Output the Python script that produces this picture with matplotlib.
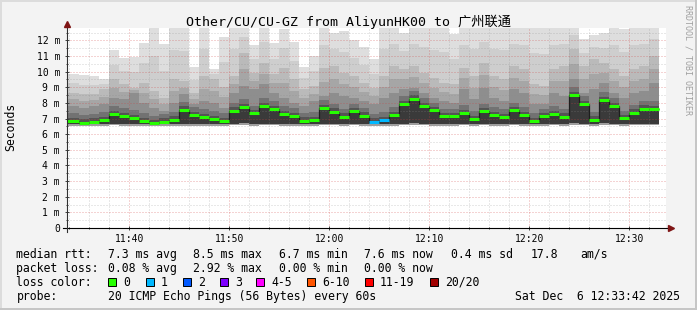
import matplotlib
matplotlib.use("Agg")
import matplotlib.pyplot as plt
import numpy as np
from matplotlib.patches import Rectangle
from matplotlib.ticker import MultipleLocator, FuncFormatter

# ---- data (ms), one bar per minute, bar i ends at sample_minute[i] (minutes after 11:00)
sample_minute = list(range(35, 94))

median_rtt = [6.84, 6.74, 6.80, 6.90, 7.29, 7.16, 7.03, 6.84, 6.69, 6.80,
              6.93, 7.55, 7.23, 7.08, 6.97, 6.84, 7.50, 7.72, 7.33, 7.80,
              7.61, 7.27, 7.16, 6.86, 6.90, 7.67, 7.44, 7.12, 7.46, 7.18,
              6.80, 6.91, 7.23, 7.91, 8.27, 7.80, 7.52, 7.14, 7.14, 7.35,
              6.97, 7.46, 7.23, 7.08, 7.52, 7.23, 6.84, 7.14, 7.29, 7.12,
              8.50, 7.91, 6.93, 8.18, 7.80, 7.01, 7.37, 7.63, 7.59]

rtt_max = [9.87, 9.80, 9.75, 9.50, 11.38, 10.88, 10.95, 11.85, 13.2, 11.77,
           13.2, 13.2, 10.30, 13.2, 10.20, 12.20, 13.2, 13.2, 11.70, 13.2,
           11.80, 12.70, 11.90, 10.30, 11.00, 13.2, 12.50, 12.60, 12.00, 11.60,
           10.78, 13.2, 13.2, 12.50, 13.2, 13.2, 13.2, 13.2, 12.39, 13.2,
           13.2, 13.2, 13.2, 13.2, 13.2, 13.2, 13.2, 13.2, 13.2, 13.2,
           13.2, 12.07, 12.32, 12.45, 13.2, 12.75, 13.2, 13.2, 13.2]

rtt_hi = [8.66, 8.55, 8.55, 8.87, 9.51, 9.19, 8.98, 9.30, 8.76, 8.34,
          9.51, 9.40, 8.66, 9.72, 9.50, 9.00, 9.70, 11.20, 9.93, 10.57,
          9.83, 10.26, 9.51, 8.87, 9.08, 10.26, 10.36, 9.93, 9.72, 9.30,
          8.98, 9.72, 10.36, 10.15, 10.36, 9.93, 9.62, 9.30, 9.19, 10.26,
          9.72, 10.57, 9.72, 9.51, 10.36, 10.15, 9.19, 9.08, 10.15, 10.36,
          11.43, 10.36, 10.79, 10.57, 10.15, 9.72, 10.15, 10.36, 11.00]

rtt_mid = [7.80, 7.70, 7.80, 7.90, 8.34, 8.23, 8.66, 8.00, 7.70, 7.50,
           8.00, 8.55, 7.90, 8.12, 8.00, 7.70, 8.66, 9.08, 8.87, 9.19,
           8.66, 8.34, 8.00, 7.80, 8.12, 8.44, 8.66, 8.44, 8.34, 8.12,
           7.90, 8.34, 8.66, 8.87, 8.98, 8.66, 8.34, 8.12, 8.00, 8.87,
           8.23, 8.98, 8.34, 8.12, 8.87, 8.66, 7.90, 7.90, 8.66, 8.44,
           9.51, 8.66, 8.87, 9.30, 8.66, 8.34, 8.66, 8.76, 9.30]

rtt_min = [6.55, 6.52, 6.55, 6.55, 6.58, 6.55, 6.55, 6.52, 6.52, 6.55,
           6.55, 6.55, 6.55, 6.55, 6.55, 6.52, 6.58, 6.60, 6.55, 6.58,
           6.58, 6.55, 6.55, 6.55, 6.55, 6.58, 6.58, 6.55, 6.58, 6.55,
           6.52, 6.55, 6.55, 6.58, 6.60, 6.58, 6.55, 6.55, 6.55, 6.58,
           6.55, 6.58, 6.55, 6.55, 6.58, 6.55, 6.52, 6.55, 6.58, 6.55,
           6.60, 6.58, 6.55, 6.60, 6.58, 6.55, 6.58, 6.58, 6.58]

lost_pings = [0] * 30 + [1, 1] + [0] * 27

loss_labels = ["0", "1", "2", "3", "4-5", "6-10", "11-19", "20/20"]
loss_colors = ["#26ff00", "#00b8ff", "#0059ff", "#7e00ff",
               "#ff00ff", "#ff5500", "#ff0000", "#a10000"]

stats_rtt = ["7.3 ms avg", "8.5 ms max", "6.7 ms min", "7.6 ms now", "0.4 ms sd", "17.8", "am/s"]
stats_loss = ["0.08 % avg", "2.92 % max", "0.00 % min", "0.00 % now"]

title = "Other/CU/CU-GZ from AliyunHK00 to 广州联通"
probe = "20 ICMP Echo Pings (56 Bytes) every 60s"
stamp = "Sat Dec  6 12:33:42 2025"

# ---- figure
W, H = 697, 310
plt.rcParams['font.family'] = ['DejaVu Sans Mono', 'Noto Sans CJK SC']
fig = plt.figure(figsize=(W / 100, H / 100), dpi=100, facecolor='#f3f3f3')


def px(x, y):
    return x / W, 1 - y / H


ax = fig.add_axes([66.7 / W, 82 / H, 599.6 / W, 200 / H])
ax.set_facecolor('white')
x_left, x_right = 33.73, 93.70
ax.set_xlim(x_left, x_right)
ax.set_ylim(0, 12.79)

edges = np.array([x_left] + sample_minute)
med = np.array(median_rtt)
lo = np.array(rtt_min)
hi = np.array(rtt_hi)
mid = np.array(rtt_mid)
mx = np.array(rtt_max)

# smoke: nested bands, darker towards the median
bands = [
    (mx, '#dedede'),
    ((mx + hi) / 2, '#cecece'),
    (hi, '#bababa'),
    ((hi + mid) / 2, '#a6a6a6'),
    (mid, '#8e8e8e'),
    (np.minimum(mid, med + 0.5), '#727272'),
    (med + 0.22, '#545454'),
    (med, '#3a3a3a'),
    (lo + 0.1, '#9e9e9e'),
]
for top, c in bands:
    ax.stairs(top, edges, baseline=lo, fill=True, color=c, lw=0, zorder=1)

ax.stairs(med, edges, baseline=None, color='#1e1e1e', lw=0.9, zorder=3)
ax.hlines(med, edges[:-1], edges[1:], colors=[loss_colors[l] for l in lost_pings],
          lw=2.2, zorder=4, capstyle='butt')

# grid / ticks
ax.xaxis.set_major_locator(MultipleLocator(10))
ax.xaxis.set_minor_locator(MultipleLocator(2))
ax.yaxis.set_major_locator(MultipleLocator(1))
ax.yaxis.set_minor_locator(MultipleLocator(0.5))
ax.xaxis.set_major_formatter(FuncFormatter(lambda v, _: f"{11 + int(round(v)) // 60}:{int(round(v)) % 60:02d}"))
ax.yaxis.set_major_formatter(FuncFormatter(lambda v, _: "0" if abs(v) < 1e-6 else f"{int(round(v))} m"))
ax.set_axisbelow(False)
ax.grid(which='major', color='#d04040', alpha=0.45, linestyle=(0, (1, 2)), lw=0.72)
ax.grid(which='minor', color='#8c8c8c', alpha=0.4, linestyle=(0, (1, 2)), lw=0.72)
ax.tick_params(which='both', direction='inout', length=3, width=0.7, color='#404040',
               labelsize=7, pad=2.5)
ax.tick_params(which='minor', length=2)
ax.tick_params(axis='y', pad=3.3)
for s in ax.spines.values():
    s.set_visible(False)

# axis lines with arrows
ax.plot([-0.0067, 1.0045], [0, 0], transform=ax.transAxes, color='black', lw=0.8, clip_on=False, zorder=5)
ax.plot([0, 0], [-0.0185, 1.015], transform=ax.transAxes, color='#303030', lw=0.8, clip_on=False, zorder=5)
ax.plot([1.0078], [0], marker='>', ms=4.5, color='#7f1515', transform=ax.transAxes, clip_on=False, zorder=6)
ax.plot([0], [1.0225], marker='^', ms=4.5, color='#7f1515', transform=ax.transAxes, clip_on=False, zorder=6)

# texts
fig.text(*px(348.5, 22), title, ha='center', va='center', fontsize=9.5)
fig.text(*px(11, 127), "Seconds", rotation=90, ha='center', va='center', fontsize=8.3)
fig.text(*px(688, 60), "RRDTOOL / TOBI OETIKER", rotation=-90, ha='center', va='center',
         fontsize=6, color='#a0a0a0')

fs = 8.3
row_y = [254.3, 268.3, 282.3, 296.3]
col_x = [107.6, 193.3, 279.1, 364.4, 451.1, 531.1, 580.0]
fig.text(*px(16.4, row_y[0]), "median rtt:", va='center', fontsize=fs)
for s, x in zip(stats_rtt, col_x):
    fig.text(*px(x, row_y[0]), s, va='center', fontsize=fs)
fig.text(*px(16.4, row_y[1]), "packet loss:", va='center', fontsize=fs)
for s, x in zip(stats_loss, col_x):
    fig.text(*px(x, row_y[1]), s, va='center', fontsize=fs)
fig.text(*px(16.4, row_y[2]), "loss color:", va='center', fontsize=fs)
box_x = [108.0, 145.8, 182.7, 219.6, 256.4, 307.1, 364.9, 430.2]
for lab, c, x in zip(loss_labels, loss_colors, box_x):
    bx, by = px(x, row_y[2] + 4)
    fig.patches.append(Rectangle((bx, by), 8 / W, 8 / H, transform=fig.transFigure,
                                 facecolor=c, edgecolor='black', lw=0.7))
    fig.text(*px(x + 15.2, row_y[2]), lab, va='center', fontsize=fs)
fig.text(*px(16.4, row_y[3]), "probe:", va='center', fontsize=fs)
fig.text(*px(107.6, row_y[3]), probe, va='center', fontsize=fs)
fig.text(*px(680, row_y[3]), stamp, va='center', ha='right', fontsize=fs)

# 3d frame
fig.patches.append(Rectangle((0, 0), 2 / W, 1, transform=fig.transFigure, color='#dcdcdc', lw=0))
fig.patches.append(Rectangle((0, 1 - 2 / H), 1, 2 / H, transform=fig.transFigure, color='#dcdcdc', lw=0))
fig.patches.append(Rectangle((1 - 2 / W, 0), 2 / W, 1, transform=fig.transFigure, color='#c6c6c6', lw=0))
fig.patches.append(Rectangle((0, 0), 1, 2 / H, transform=fig.transFigure, color='#c6c6c6', lw=0))

fig.savefig("out.png", dpi=100, facecolor=fig.get_facecolor())
